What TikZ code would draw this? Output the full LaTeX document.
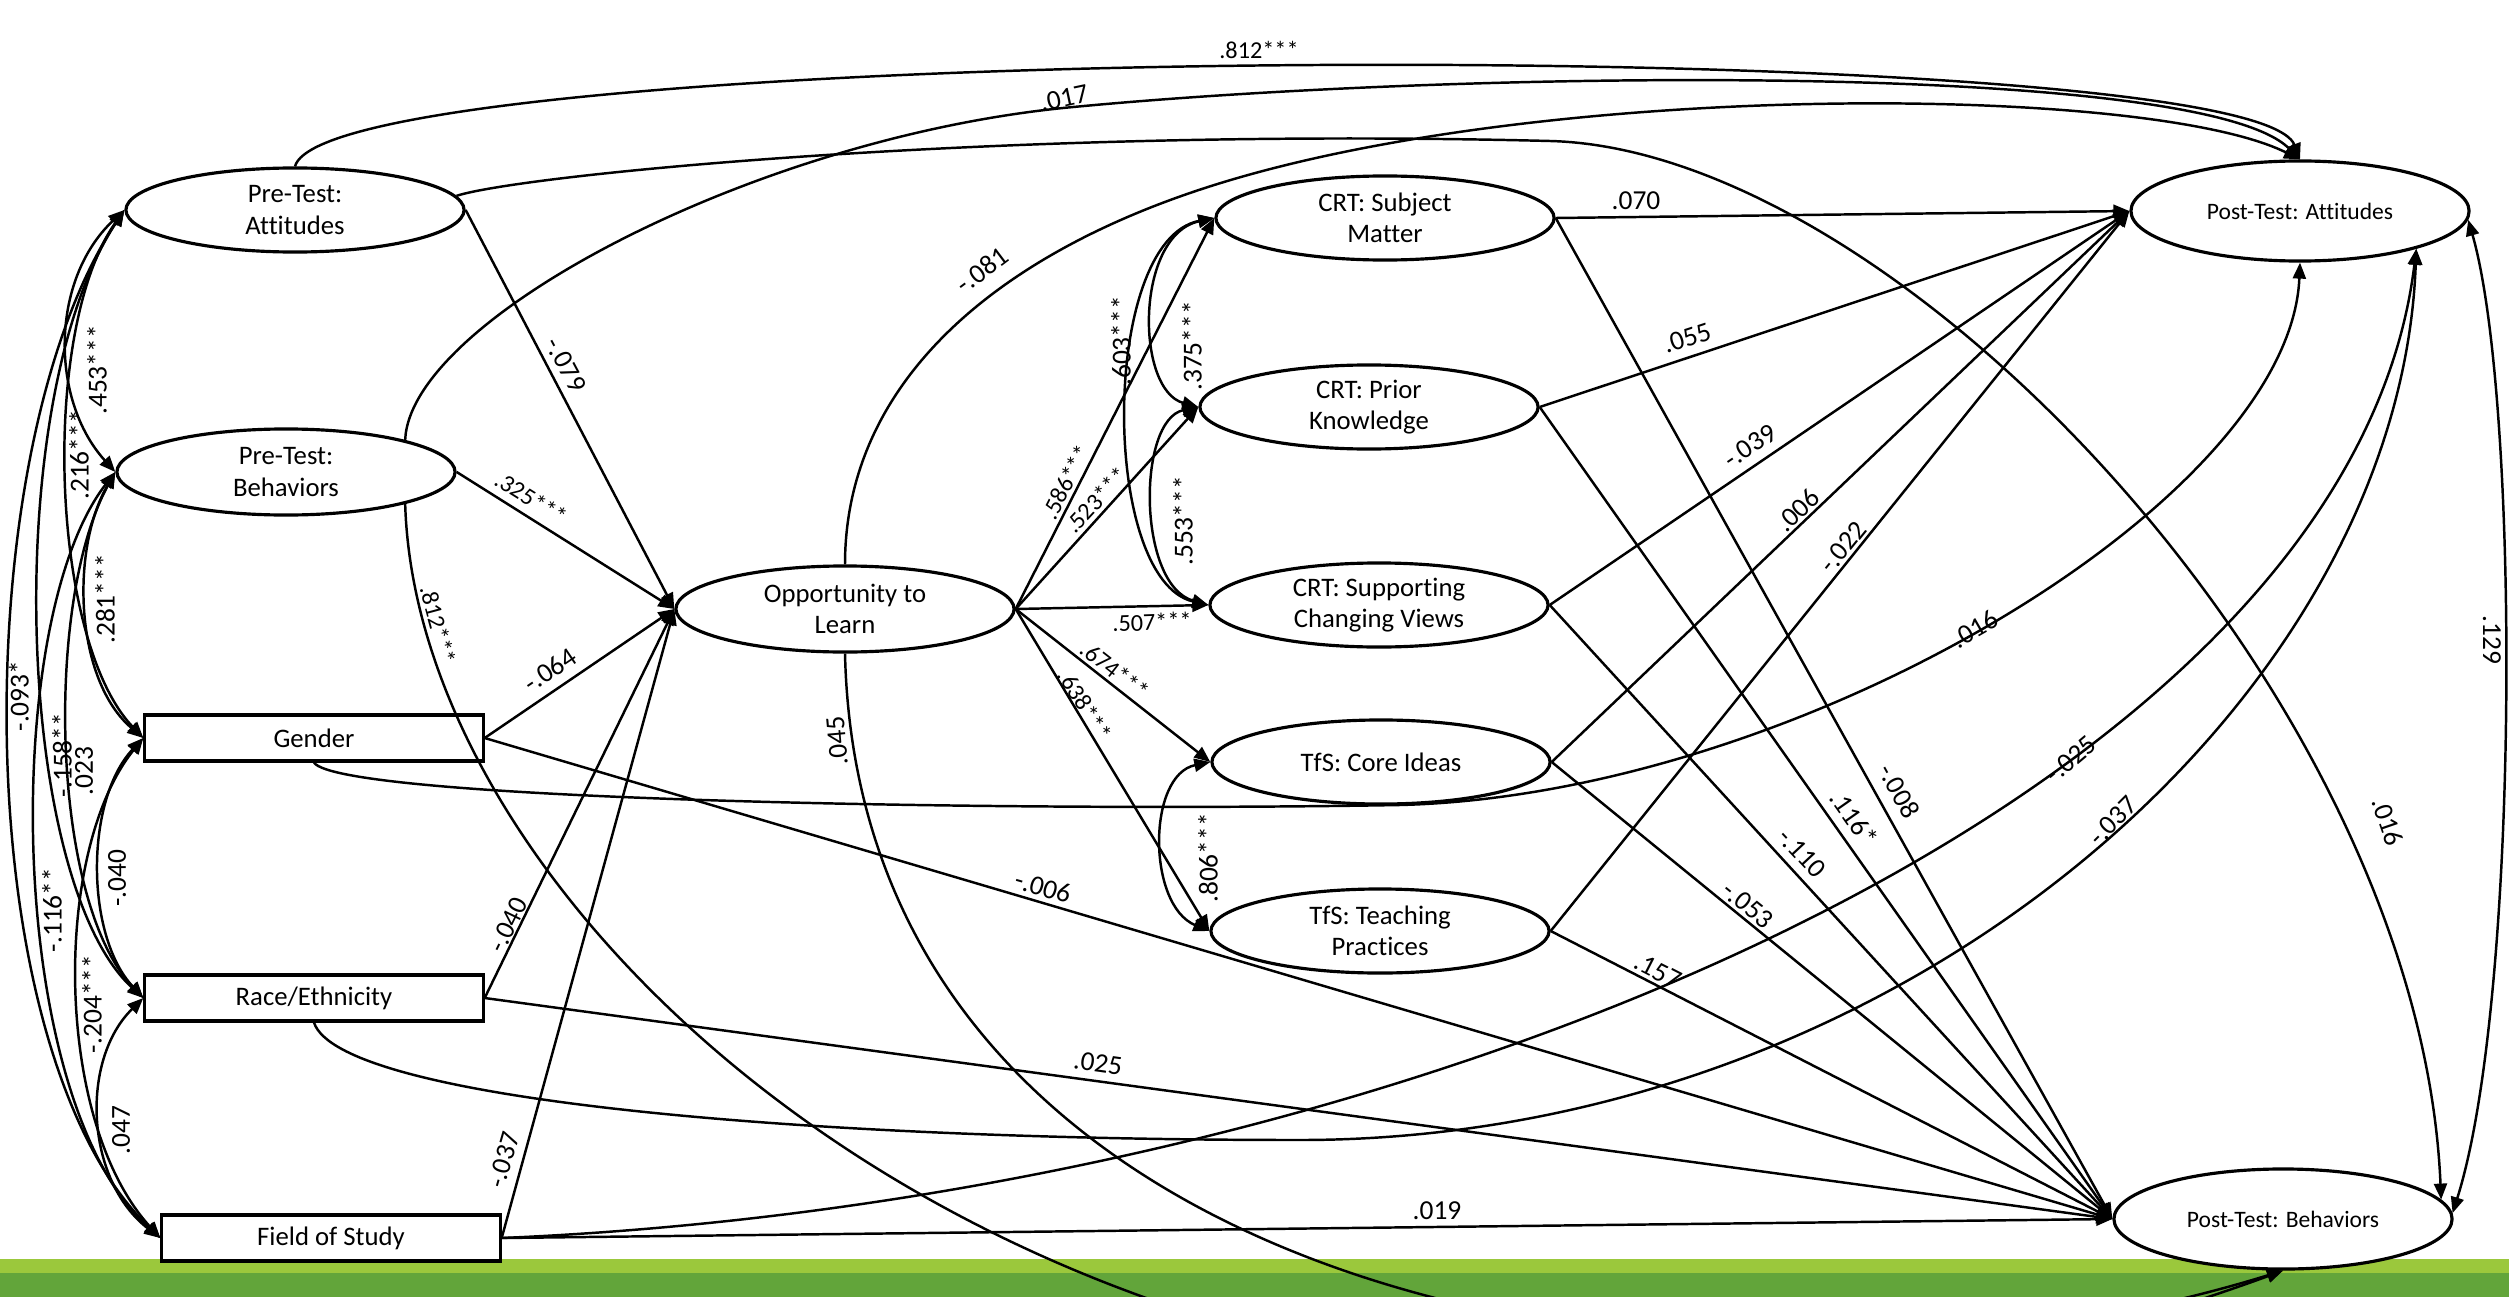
\documentclass[tikz,border=0pt]{standalone}
\usepackage{fontspec}
\setmainfont{Carlito}[Ligatures=NoCommon]
\usetikzlibrary{arrows.meta,shapes.geometric}
\definecolor{barlight}{HTML}{9BC83C}
\definecolor{bardark}{HTML}{62A53A}
\begin{document}
\begin{tikzpicture}[x=0.01cm,y=-0.01cm,
  ell/.style={draw,line width=0.9pt,fill=white,ellipse,inner sep=0pt,align=center,
    minimum width=3.38cm,minimum height=0.84cm,font=\fontsize{7.6}{8.9}\selectfont},
  box/.style={draw,line width=0.9pt,fill=white,rectangle,inner sep=0pt,
    minimum width=3.38cm,minimum height=0.46cm,font=\fontsize{7.6}{8.9}\selectfont},
  post/.style={ell,minimum height=1.0cm,font=\fontsize{6.7}{8}\selectfont},
  arr/.style={line width=0.7pt,-{Triangle[length=1.6mm,width=1.3mm]}},
  cv/.style={line width=0.7pt,{Triangle[length=1.6mm,width=1.3mm]}-{Triangle[length=1.6mm,width=1.3mm]}},
  lab/.style={inner sep=0pt,font=\fontsize{7.8}{9}\selectfont},
  slab/.style={inner sep=0pt,font=\fontsize{6.9}{8}\selectfont}]
\useasboundingbox (0,0) rectangle (2509,1297);
\clip (0,0) rectangle (2509,1297);
% footer bar
\fill[barlight] (0,1259) rectangle (2509,1273);
\fill[bardark] (0,1273) rectangle (2509,1297);
% nodes
\node[ell] (preA) at (295,210) {Pre-Test:\\Attitudes};
\node[ell,minimum height=0.86cm] (preB) at (286,472) {Pre-Test:\\Behaviors};
\node[box] (gender) at (314,738) {Gender};
\node[box] (race) at (314,998) {Race/Ethnicity};
\node[box] (field) at (331,1238) {Field of Study};
\node[ell,minimum height=0.86cm] (otl) at (845,609) {Opportunity to\\Learn};
\node[ell] (sm) at (1385,218) {CRT: Subject\\Matter};
\node[ell] (pk) at (1369,407) {CRT: Prior\\Knowledge};
\node[ell] (scv) at (1379,605) {CRT: Supporting\\Changing Views};
\node[ell] (core) at (1381,762) {TfS: Core Ideas};
\node[ell] (tp) at (1380,931) {TfS: Teaching\\Practices};
\node[post] (pa) at (2300,211) {Post-Test: Attitudes};
\node[post] (pb) at (2283,1219) {Post-Test: Behaviors};
% left covariances
\draw[cv] (preA.west) .. controls (50,280) and (50,400) .. (preB.west);
\draw[cv] (preA.west) .. controls (40,330) and (50,640) .. (gender.west);
\draw[cv] (preB.west) .. controls (70,550) and (75,680) .. (gender.west);
\draw[cv] (preA.west) .. controls (-35,450) and (-35,1050) .. (field.west);
\draw[cv] (preA.west) .. controls (0,400) and (15,880) .. (race.west);
\draw[cv] (preB.west) .. controls (45,600) and (50,900) .. (race.west);
\draw[cv] (gender.west) .. controls (85,800) and (85,935) .. (race.west);
\draw[cv] (preB.west) .. controls (0,620) and (5,1100) .. (field.west);
\draw[cv] (gender.west) .. controls (53,850) and (53,1120) .. (field.west);
\draw[cv] (race.west) .. controls (80,1060) and (85,1180) .. (field.west);
% into OTL
\draw[arr] (preA.east) -- (otl.west);
\draw[arr] (preB.east) -- (otl.west);
\draw[arr] (gender.east) -- (otl.west);
\draw[arr] (race.east) -- (otl.west);
\draw[arr] (field.east) -- (otl.west);
% OTL to mediators
\draw[arr] (otl.east) -- (sm.west);
\draw[arr] (otl.east) -- (pk.west);
\draw[arr] (otl.east) -- (scv.west);
\draw[arr] (otl.east) -- (core.west);
\draw[arr] (otl.east) -- (tp.west);
% mediator covariances
\draw[cv] (sm.west) .. controls (1100,240) and (1100,580) .. (scv.west);
\draw[cv] (sm.west) .. controls (1135,235) and (1135,390) .. (pk.west);
\draw[cv] (pk.west) .. controls (1137,420) and (1137,585) .. (scv.west);
\draw[cv] (core.west) .. controls (1147,775) and (1147,905) .. (tp.west);
% mediators to outcomes
\foreach \m in {sm,pk,scv,core,tp}{
  \draw[arr] (\m.east) -- (pa.west);
  \draw[arr] (\m.east) -- (pb.west);
}
% exogenous straight to PB
\draw[arr] (gender.east) -- (pb.west);
\draw[arr] (race.east) -- (pb.west);
\draw[arr] (field.east) -- (pb.west);
% long curves
\draw[arr] (preA.north) .. controls (330,40) and (2250,30) .. (pa.north);
\draw[arr] (preB.15) .. controls (410,320) and (750,140) .. (1063,108) .. controls (1450,70) and (2200,60) .. (pa.north);
\draw[arr] (otl.north) .. controls (845,380) and (1000,250) .. (1224,182) .. controls (1560,80) and (2150,85) .. (pa.north);
\draw[arr] (preA.5) .. controls (520,175) and (1000,127) .. (1550,141) .. controls (1900,150) and (2420,700) .. (pb.7);
\draw[arr] (gender.south) .. controls (340,800) and (1000,812) .. (1400,805) .. controls (1800,795) and (2290,500) .. (pa.south);
\draw[arr] (race.south) .. controls (340,1100) and (800,1140) .. (1300,1140) .. controls (1900,1140) and (2400,700) .. (pa.-18);
\draw[arr] (field.east) .. controls (1400,1200) and (2350,800) .. (pa.-18);
\draw[arr] (otl.south) .. controls (860,1300) and (1700,1450) .. (pb.south);
\draw[arr] (preB.-15) .. controls (420,1000) and (1250,1650) .. (pb.south);
\draw[cv] (pa.-3) .. controls (2520,400) and (2520,1000) .. (pb.2);
% labels: left covariances
\node[lab,rotate=90] (l01) at (97,370) {.453***};
\node[lab,rotate=90] (l02) at (79,455) {.216***};
\node[lab,rotate=90] (l03) at (105,599) {.281***};
\node[lab,rotate=90] (l04) at (19,696) {-.093*};
\node[lab,rotate=90] (l05) at (62,755) {-.158**};
\node[lab,rotate=90] (l06) at (84,771) {.023};
\node[lab,rotate=90] (l07) at (117,878) {-.040};
\node[lab,rotate=90] (l08) at (52,910) {-.116**};
\node[lab,rotate=90] (l09) at (92,1004) {-.204***};
\node[lab,rotate=90] (l10) at (121,1130) {.047};
% labels: into OTL
\node[lab,rotate=-62] (l11) at (566,365) {-.079};
\node[slab,rotate=-32] (l12) at (531,498) {.325***};
\node[lab,rotate=34] (l13) at (550,670) {-.064};
\node[lab,rotate=64] (l14) at (508,925) {-.040};
\node[lab,rotate=74] (l15) at (504,1160) {-.037};
% labels: OTL out
\node[slab,rotate=63] (l16) at (1066,482) {.586***};
\node[slab,rotate=47] (l17) at (1096,500) {.523***};
\node[slab,rotate=2] (l18) at (1152,622) {.507***};
\node[slab,rotate=-38] (l19) at (1115,670) {.674***};
\node[slab,rotate=-58] (l20) at (1085,705) {.638***};
% labels: mediator covariances
\node[lab,rotate=90] (l21) at (1121,341) {.603***};
\node[lab,rotate=90] (l22) at (1192,346) {.375***};
\node[lab,rotate=90] (l23) at (1183,521) {.553***};
\node[lab,rotate=90] (l24) at (1208,858) {.806***};
% labels: to PA
\node[lab] (l25) at (1636,201) {.070};
\node[lab,rotate=18] (l26) at (1687,338) {.055};
\node[lab,rotate=34] (l27) at (1750,446) {-.039};
\node[lab,rotate=43] (l28) at (1798,510) {.006};
\node[lab,rotate=51] (l29) at (1843,547) {-.022};
% labels: to PB
\node[lab,rotate=-61] (l30) at (1899,791) {-.008};
\node[lab,rotate=-55] (l31) at (1854,818) {.116*};
\node[lab,rotate=-47] (l32) at (1802,853) {-.110};
\node[lab,rotate=-39] (l33) at (1748,905) {-.053};
\node[lab,rotate=-27] (l34) at (1658,971) {.157};
\node[lab,rotate=-16] (l35) at (1043,887) {-.006};
\node[lab,rotate=-8] (l36) at (1098,1063) {.025};
\node[lab] (l37) at (1437,1211) {.019};
% labels: long curves
\node[slab] (l38) at (1259,50) {.812***};
\node[lab,rotate=12] (l39) at (1064,98) {.017};
\node[lab,rotate=37] (l40) at (982,270) {-.081};
\node[lab,rotate=-71] (l41) at (2388,822) {.016};
\node[lab,rotate=30] (l42) at (1975,629) {.016};
\node[lab,rotate=40] (l43) at (2071,759) {-.025};
\node[lab,rotate=45] (l44) at (2113,821) {-.037};
\node[lab,rotate=95] (l45) at (837,741) {.045};
\node[slab,rotate=-75] (l46) at (438,625) {.812***};
\node[lab,rotate=-90] (l47) at (2492,640) {.129};
\end{tikzpicture}
\end{document}
